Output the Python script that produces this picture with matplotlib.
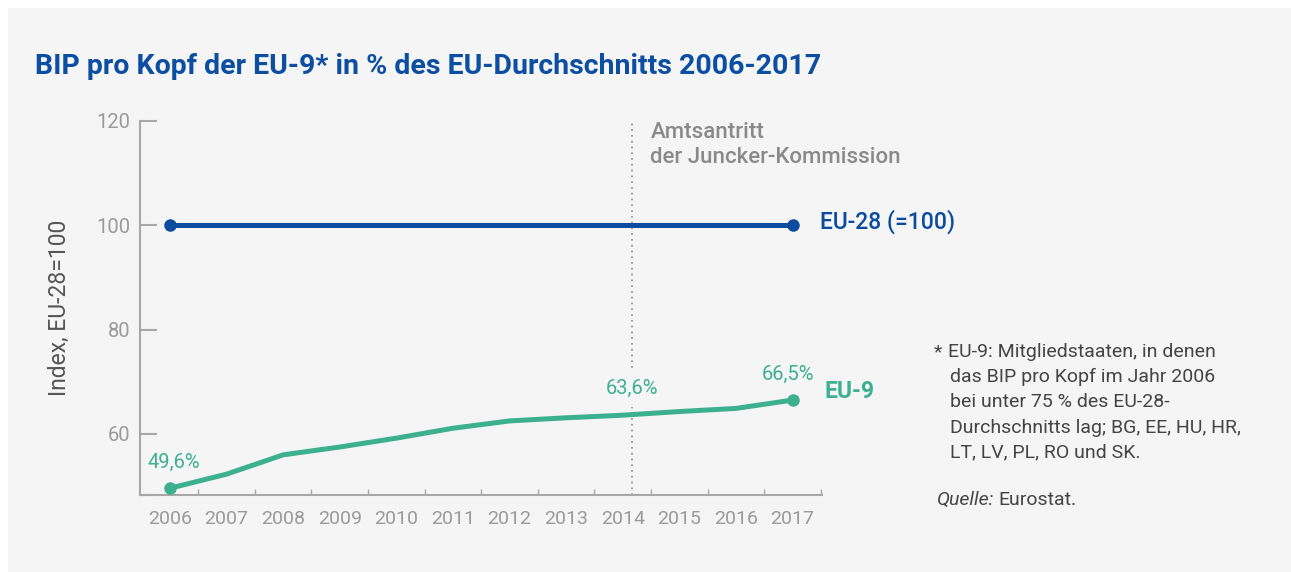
import numpy as np
import matplotlib.pyplot as plt
from matplotlib.patches import Rectangle
from matplotlib.ticker import FixedLocator

plt.rcParams['font.family'] = ['Roboto', 'DejaVu Sans']

# data
years = [2006, 2007, 2008, 2009, 2010, 2011, 2012, 2013, 2014, 2015, 2016, 2017]
eu28 = [100] * 12
eu9 = [49.6, 52.3, 56.0, 57.5, 59.2, 61.1, 62.5, 63.1, 63.6, 64.3, 64.9, 66.5]
yticks = [60, 80, 100, 120]
juncker_x = 2014.17

cols = {}
cols['blue'] = '#0b4c9e'
cols['green'] = '#3cb08f'
cols['bg'] = '#f5f5f5'
cols['axis'] = '#a8a8a8'
cols['tick'] = '#9a9a9a'

W, H = 1291, 572
fig = plt.figure(figsize=(W / 100, H / 100), dpi=100)
fig.patch.set_facecolor('white')
fig.patches.append(Rectangle((8 / W, 0), 1, (H - 8) / H, transform=fig.transFigure,
                             facecolor=cols['bg'], edgecolor='none', zorder=-10))


def px(x, y):
    return x / W, 1 - y / H


ax = fig.add_axes([140 / W, (H - 495) / H, (822 - 140) / W, (495 - 121) / H])
ax.set_facecolor('none')
ax.set_xlim(2005.47, 2017.52)
ax.set_ylim(48.3, 120)

ax.plot(years, eu28, color=cols['blue'], lw=3.6, marker='o', ms=8,
        markevery=[0, -1], solid_capstyle='butt', zorder=3)
ax.plot(years, eu9, color=cols['green'], lw=3.6, marker='o', ms=8,
        markevery=[0, -1], solid_capstyle='butt', zorder=3)

ax.axvline(juncker_x, color='#9a9a9a', lw=1.3, ls=(0, (1, 2.2)), zorder=2)

# spines and ticks
for s in ['top', 'right']:
    ax.spines[s].set_visible(False)
for s in ['left', 'bottom']:
    ax.spines[s].set_color(cols['axis'])
    ax.spines[s].set_linewidth(1.5)

ax.set_yticks(yticks)
ax.yaxis.set_minor_locator(FixedLocator([48.3]))
ax.tick_params(axis='y', which='both', direction='in', length=12, width=1.5,
               color=cols['axis'], labelsize=14.5, labelcolor=cols['tick'], pad=7)
ax.set_xticks(years)
ax.xaxis.set_minor_locator(FixedLocator([y + 0.5 for y in years]))
ax.tick_params(axis='x', which='major', length=0, labelsize=14,
               labelcolor=cols['tick'], pad=11)
ax.tick_params(axis='x', which='minor', direction='in', length=4.5, width=1,
               color=cols['axis'])

ax.set_ylabel('Index, EU-28=100', fontsize=16.5, color='#555555', labelpad=18)

# data labels
lab_kw = dict(textcoords='offset points', ha='center', va='baseline',
              fontsize=14.5, color=cols['green'])
ax.annotate('49,6%', (years[0], eu9[0]), xytext=(3, 14.5), **lab_kw)
ax.annotate('66,5%', (years[-1], eu9[-1]), xytext=(-3, 14.5), **lab_kw)
ax.annotate('63,6%', (juncker_x, eu9[8]), xytext=(0, 15), zorder=4,
            bbox=dict(boxstyle='square,pad=0.45', fc=cols['bg'], ec='none'),
            **lab_kw)

ax.annotate('EU-28 (=100)', (years[-1], eu28[-1]), xytext=(19.5, 3),
            textcoords='offset points', ha='left', va='center', fontsize=16.5,
            color=cols['blue'], fontweight='medium')
ax.annotate('EU-9', (years[-1], eu9[-1]), xytext=(23, 6),
            textcoords='offset points', ha='left', va='center', fontsize=16.5,
            color=cols['green'], fontweight='bold')

ann_kw = dict(textcoords='offset points', ha='left', va='baseline',
              fontsize=16, color='#8a8a8a', fontweight='medium')
ax.annotate('Amtsantritt', (juncker_x, 120), xytext=(13, -12), **ann_kw)
ax.annotate('der Juncker-Kommission', (juncker_x, 120), xytext=(13, -30.5), **ann_kw)

# title
fig.text(*px(35, 74), 'BIP pro Kopf der EU-9* in % des EU-Durchschnitts 2006-2017',
         ha='left', va='baseline', fontsize=20.5, fontweight='bold',
         color='#0b4ea2')

# footnote
note = ['EU-9: Mitgliedstaaten, in denen',
        'das BIP pro Kopf im Jahr 2006',
        'bei unter 75 % des EU-28-',
        'Durchschnitts lag; BG, EE, HU, HR,',
        'LT, LV, PL, RO und SK.']
fig.text(*px(934, 357), '*', ha='left', va='baseline', fontsize=14, color='#444444')
for i, line in enumerate(note):
    fig.text(*px(948 if i == 0 else 950, 357 + i * 25.2), line, ha='left',
             va='baseline', fontsize=14, color='#444444')
t1 = fig.text(*px(937, 505), 'Quelle:', ha='left', va='baseline', fontsize=14,
              color='#444444', style='italic')
fig.canvas.draw()
bb = t1.get_window_extent()
fig.text((bb.x1 + 4) / W, 1 - 505 / H, 'Eurostat.', ha='left', va='baseline',
         fontsize=14, color='#444444')

fig.savefig('out.png', dpi=100)
